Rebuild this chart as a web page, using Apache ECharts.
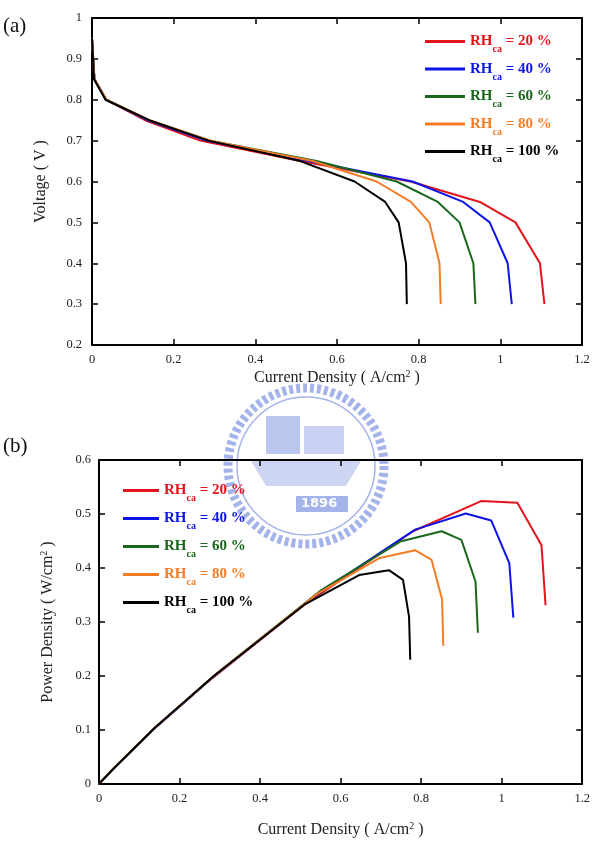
<!DOCTYPE html>
<html>
<head>
<meta charset="utf-8">
<script src="https://cdn.jsdelivr.net/npm/echarts@6/dist/echarts.min.js"></script>
<style>
html, body { margin: 0; padding: 0; background: #fff; }
#main { width: 593px; height: 844px; }
</style>
</head>
<body>
<div id="main"></div>
<script>
// legend labels and colours
var rhLabels = ['20 %', '40 %', '60 %', '80 %', '100 %'];
var colors = ['#e3141b', '#0c14e8', '#19661c', '#f47c24', '#000000'];

// (a) current density (A/cm2) vs voltage (V)
var va20  = [[0,0.95],[0.006,0.85],[0.035,0.8],[0.13,0.75],[0.265,0.7],[0.51,0.65],[0.78,0.6],[0.95,0.55],[1.037,0.5],[1.097,0.4],[1.108,0.3]];
var va40  = [[0,0.95],[0.006,0.85],[0.035,0.8],[0.135,0.75],[0.28,0.7],[0.53,0.65],[0.785,0.6],[0.909,0.55],[0.974,0.5],[1.018,0.4],[1.028,0.3]];
var va60  = [[0,0.95],[0.006,0.85],[0.035,0.8],[0.14,0.75],[0.29,0.7],[0.55,0.65],[0.746,0.6],[0.847,0.55],[0.9,0.5],[0.934,0.4],[0.939,0.3]];
var va80  = [[0,0.95],[0.006,0.85],[0.035,0.8],[0.14,0.75],[0.29,0.7],[0.54,0.65],[0.697,0.6],[0.781,0.55],[0.826,0.5],[0.851,0.4],[0.854,0.3]];
var va100 = [[0,0.95],[0.005,0.85],[0.033,0.8],[0.14,0.75],[0.285,0.7],[0.51,0.65],[0.643,0.6],[0.718,0.55],[0.751,0.5],[0.769,0.4],[0.771,0.3]];

// (b) current density (A/cm2) vs power density (W/cm2)
var pb20  = [[0,0],[0.006,0.005],[0.035,0.028],[0.13,0.098],[0.265,0.186],[0.51,0.332],[0.78,0.468],[0.949,0.524],[1.039,0.521],[1.099,0.442],[1.109,0.331]];
var pb40  = [[0,0],[0.006,0.005],[0.035,0.028],[0.135,0.101],[0.28,0.196],[0.53,0.345],[0.785,0.471],[0.911,0.501],[0.974,0.488],[1.019,0.409],[1.029,0.308]];
var pb60  = [[0,0],[0.006,0.005],[0.035,0.028],[0.14,0.105],[0.29,0.203],[0.55,0.358],[0.748,0.449],[0.851,0.468],[0.9,0.452],[0.935,0.375],[0.941,0.28]];
var pb80  = [[0,0],[0.006,0.005],[0.035,0.028],[0.14,0.105],[0.29,0.203],[0.54,0.351],[0.695,0.418],[0.785,0.433],[0.826,0.415],[0.852,0.342],[0.855,0.256]];
var pb100 = [[0,0],[0.005,0.004],[0.033,0.026],[0.14,0.105],[0.285,0.2],[0.51,0.332],[0.646,0.387],[0.72,0.396],[0.755,0.378],[0.77,0.31],[0.773,0.23]];

var voltData = [va20, va40, va60, va80, va100];
var powerData = [pb20, pb40, pb60, pb80, pb100];

var serif = '"Liberation Serif", "Times New Roman", serif';

var myChart = echarts.init(document.getElementById('main'), null, { renderer: 'canvas' });

// axis name with superscript 2
var nameRich = {
    t: { fontFamily: serif, fontSize: 16, color: '#222', lineHeight: 18 },
    s: { fontFamily: serif, fontSize: 10, color: '#222', lineHeight: 4, verticalAlign: 'top' }
};

function xAxisFor(grid, top, gap) {
    var ax = {
        gridIndex: grid, type: 'value', min: 0, max: 1.2, interval: 0.2,
        position: top ? 'top' : 'bottom',
        axisLine: { onZero: false, lineStyle: { color: '#000', width: 2 } },
        axisTick: { inside: true, length: 6, lineStyle: { color: '#000', width: 1.5 } },
        axisLabel: { show: !top, color: '#222', fontFamily: serif, fontSize: 12.5, margin: 8 },
        splitLine: { show: false }
    };
    if (!top) {
        ax.name = '{t|Current Density ( A/cm}{s|2}{t| )}';
        ax.nameLocation = 'middle';
        ax.nameGap = gap;
        ax.nameTextStyle = { rich: nameRich };
    }
    return ax;
}

function yAxisFor(grid, right, min, max, name, gap, margin) {
    var ax = {
        gridIndex: grid, type: 'value', min: min, max: max, interval: 0.1,
        position: right ? 'right' : 'left',
        axisLine: { onZero: false, lineStyle: { color: '#000', width: 2 } },
        axisTick: { inside: true, length: 6, lineStyle: { color: '#000', width: 1.5 } },
        axisLabel: { show: !right, color: '#222', fontFamily: serif, fontSize: 12.5, margin: margin },
        splitLine: { show: false }
    };
    if (!right) {
        ax.name = name;
        ax.nameLocation = 'middle';
        ax.nameGap = gap;
        ax.nameTextStyle = { rich: nameRich };
    }
    return ax;
}

function legendItems() {
    return rhLabels.map(function (lab, i) {
        return {
            name: lab,
            textStyle: {
                rich: {
                    r: { fontFamily: serif, fontSize: 15, fontWeight: 'bold', color: colors[i], lineHeight: 26 },
                    s: { fontFamily: serif, fontSize: 10, fontWeight: 'bold', color: colors[i], lineHeight: 4, verticalAlign: 'bottom' }
                }
            }
        };
    });
}

function legendFor(left, top, w, gap) {
    return {
        orient: 'vertical', left: left, top: top, padding: 0,
        itemWidth: w, itemHeight: 3, itemGap: gap,
        icon: 'rect',
        selectedMode: false,
        formatter: function (name) { return '{r|RH}{s|ca}{r| = ' + name + '}'; },
        data: legendItems()
    };
}

var series = [];
rhLabels.forEach(function (lab, i) {
    series.push({
        name: lab, type: 'line', xAxisIndex: 0, yAxisIndex: 0,
        data: voltData[i], showSymbol: false, symbol: 'none',
        itemStyle: { color: colors[i] },
        lineStyle: { color: colors[i], width: 2 }, z: 3
    });
});
rhLabels.forEach(function (lab, i) {
    series.push({
        name: lab, type: 'line', xAxisIndex: 2, yAxisIndex: 2,
        data: powerData[i], showSymbol: false, symbol: 'none',
        itemStyle: { color: colors[i] },
        lineStyle: { color: colors[i], width: 2 }, z: 3
    });
});

var logoColor = '#a4b3ea';
var lx = 306, ly = 466;

var option = {
    backgroundColor: '#fff',
    animation: false,
    grid: [
        { left: 92, top: 18, width: 490, height: 327 },
        { left: 99, top: 460, width: 488, height: 324 }
    ],
    xAxis: [xAxisFor(0, false, 24), xAxisFor(0, true), xAxisFor(1, false, 37), xAxisFor(1, true)],
    yAxis: [
        yAxisFor(0, false, 0.2, 1, '{t|Voltage ( V )}', 42, 10),
        yAxisFor(0, true, 0.2, 1),
        yAxisFor(1, false, 0, 0.6, '{t|Power Density ( W/cm}{s|2}{t| )}', 42, 8),
        yAxisFor(1, true, 0, 0.6)
    ],
    legend: [legendFor(425, 34, 40, 7), legendFor(123, 483, 36, 7.5)],
    graphic: [
        { type: 'text', left: 3, top: 16, style: { text: '(a)', font: '21px ' + serif, fill: '#111' } },
        { type: 'text', left: 3, top: 436, style: { text: '(b)', font: '21px ' + serif, fill: '#111' } },
        // faint watermark logo
        { type: 'circle', z: 0, shape: { cx: lx, cy: ly, r: 78 },
          style: { fill: 'none', stroke: logoColor, lineWidth: 9, lineDash: [4, 3] } },
        { type: 'circle', z: 0, shape: { cx: lx, cy: ly, r: 69 },
          style: { fill: 'none', stroke: logoColor, lineWidth: 1.5 } },
        { type: 'rect', z: 0, shape: { x: lx - 40, y: ly - 50, width: 34, height: 38 },
          style: { fill: logoColor, opacity: 0.75 } },
        { type: 'rect', z: 0, shape: { x: lx - 2, y: ly - 40, width: 40, height: 28 },
          style: { fill: logoColor, opacity: 0.6 } },
        { type: 'polygon', z: 0, shape: { points: [[lx - 55, ly - 5], [lx + 55, ly - 5], [lx + 40, ly + 20], [lx - 40, ly + 20]] },
          style: { fill: logoColor, opacity: 0.55 } },
        { type: 'rect', z: 0, shape: { x: lx - 10, y: ly + 30, width: 52, height: 16 },
          style: { fill: logoColor } },
        { type: 'text', z: 0, left: lx - 5, top: ly + 31, style: { text: '1896', font: 'bold 13px "DejaVu Sans", sans-serif', fill: '#fff' } }
    ],
    series: series
};

myChart.setOption(option);
</script>
</body>
</html>
